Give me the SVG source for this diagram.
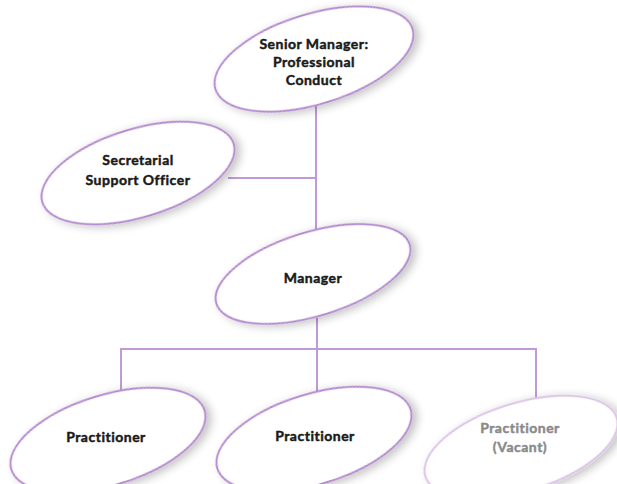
<svg xmlns="http://www.w3.org/2000/svg" width="617" height="484" viewBox="0 0 617 484">
  <defs>
    <filter id="soft" x="-20%" y="-30%" width="140%" height="160%">
      <feGaussianBlur in="SourceAlpha" stdDeviation="5"/>
      <feOffset dx="4" dy="3" result="b"/>
      <feComponentTransfer in="b" result="s"><feFuncA type="linear" slope="0.25"/></feComponentTransfer>
      <feMerge><feMergeNode in="s"/><feMergeNode in="SourceGraphic"/></feMerge>
    </filter>
  </defs>
  <style>
    .oval { fill: #ffffff; stroke: #b48ace; stroke-width: 2; filter: url(#soft); }
    .oval.vacant { stroke: #dcc4e8; }
    .link { fill: none; stroke: #bf9ad6; stroke-width: 2; }
    text { font-family: "Lato", "DejaVu Sans", sans-serif; font-weight: bold; font-size: 14px; letter-spacing: 0.5px; fill: #1a1a1a; stroke: #1a1a1a; stroke-width: 0.45; text-anchor: middle; }
    text.vacant { fill: #8a8a8a; stroke: #8a8a8a; }
  </style>
  <rect width="617" height="484" fill="#ffffff"/>

  <g id="connectors">
    <path class="link" d="M316 100 V230"/>
    <path class="link" d="M228 178 H316"/>
    <path class="link" d="M317 318 V349"/>
    <path class="link" d="M121 395 V349 H536 V407"/>
    <path class="link" d="M317 349 V396"/>
  </g>

  <g id="senior-manager">
    <ellipse class="oval" cx="314" cy="59" rx="103" ry="45" transform="rotate(-17 314 59)"/>
    <text x="314" y="49">Senior Manager:</text>
    <text x="314" y="67">Professional</text>
    <text x="314" y="85">Conduct</text>
  </g>

  <g id="secretarial">
    <ellipse class="oval" cx="138" cy="173" rx="100" ry="44" transform="rotate(-17 138 173)"/>
    <text x="138" y="165">Secretarial</text>
    <text x="138" y="185">Support Officer</text>
  </g>

  <g id="manager">
    <ellipse class="oval" cx="313" cy="274" rx="101" ry="42" transform="rotate(-17 313 274)"/>
    <text x="313" y="283">Manager</text>
  </g>

  <g id="practitioner-1">
    <ellipse class="oval" cx="108" cy="440" rx="101" ry="45" transform="rotate(-17 108 440)"/>
    <text x="106" y="442">Practitioner</text>
  </g>

  <g id="practitioner-2">
    <ellipse class="oval" cx="314" cy="439" rx="101" ry="45" transform="rotate(-17 314 439)"/>
    <text x="315" y="441">Practitioner</text>
  </g>

  <g id="practitioner-vacant">
    <ellipse class="oval vacant" cx="521" cy="447" rx="100" ry="44" transform="rotate(-17 521 447)"/>
    <text class="vacant" x="520" y="433">Practitioner</text>
    <text class="vacant" x="520" y="452">(Vacant)</text>
  </g>
</svg>
